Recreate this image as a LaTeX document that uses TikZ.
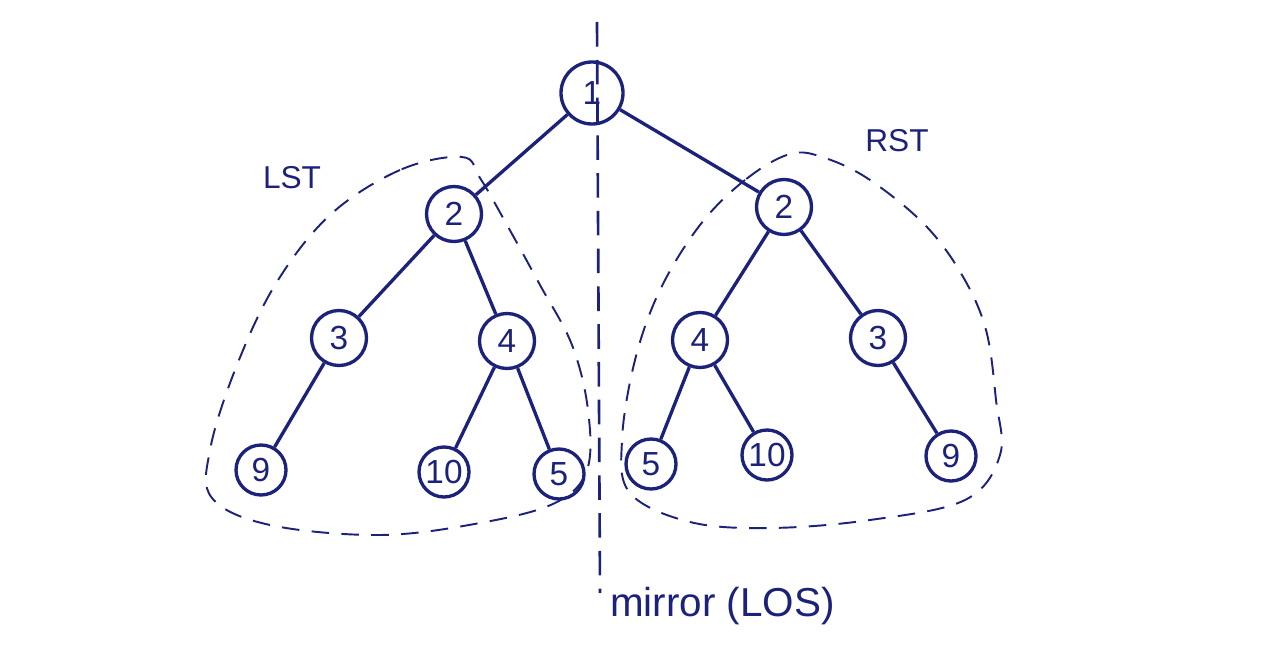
\documentclass[tikz,border=0pt]{standalone}
\usepackage{fontspec}
\setmainfont{Liberation Sans}
\usetikzlibrary{calc}
\definecolor{ink}{RGB}{28,34,122}
\newlength{\unitpx}
\setlength{\unitpx}{0.02cm}
\tikzset{
  tnode/.style={circle,draw=ink,line width=1.9pt,text=ink,inner sep=0pt,font=\fontsize{19}{21}\selectfont},
  big/.style={tnode,minimum size=62\unitpx},
  mid/.style={tnode,minimum size=55\unitpx},
  leaf/.style={tnode,minimum size=50\unitpx},
  edge/.style={draw=ink,line width=1.9pt},
  hull/.style={draw=ink,line width=1.1pt,dash pattern=on 10pt off 7pt},
  lbl/.style={text=ink,font=\fontsize{18}{20}\selectfont}
}
\begin{document}
\begin{tikzpicture}[x=0.02cm,y=-0.02cm]
\useasboundingbox (0,0) rectangle (1280,658);
% mirror line
\coordinate (mtop) at (597,22);
\coordinate (mbot) at (600,593);
\draw[ink,line width=1.5pt,dash pattern=on 14pt off 7.5pt] (mtop) -- (mbot);
% nodes
\node[big] (r) at (592,93) {1};
\node[mid] (l2) at (454,214) {2};
\node[mid] (l3) at (339,338) {3};
\node[mid] (l4) at (507,341) {4};
\node[leaf] (l9) at (261,470) {9};
\node[leaf] (l10) at (444,472) {10};
\node[leaf] (l5) at (559,474) {5};
\node[mid] (r2) at (784,207) {2};
\node[mid] (r4) at (700,340) {4};
\node[mid] (r3) at (878,338) {3};
\node[leaf] (r5) at (651,464) {5};
\node[leaf] (r10) at (767,455) {10};
\node[leaf] (r9) at (951,456) {9};
% edges
\draw[edge] (r) -- (l2);
\draw[edge] (r) -- (r2);
\draw[edge] (l2) -- (l3);
\draw[edge] (l2) -- (l4);
\draw[edge] (l3) -- (l9);
\draw[edge] (l4) -- (l10);
\draw[edge] (l4) -- (l5);
\draw[edge] (r2) -- (r4);
\draw[edge] (r2) -- (r3);
\draw[edge] (r4) -- (r5);
\draw[edge] (r4) -- (r10);
\draw[edge] (r3) -- (r9);
% hulls
\draw[hull] plot[smooth cycle,tension=0.6] coordinates {
  (462,157) (400,170) (330,215) (275,285) (235,370) (210,450) (212,498)
  (270,525) (380,535) (480,523) (555,503) (587,470) (588,410) (572,345)
  (540,285) (507,225) (480,178)};
\draw[hull] plot[smooth cycle,tension=0.6] coordinates {
  (790,154) (745,180) (700,225) (660,290) (635,360) (622,440) (630,493)
  (690,522) (770,528) (870,520) (965,500) (1000,455) (996,400) (986,330)
  (962,275) (925,225) (870,180) (825,158)};
% labels
\node[lbl] (lst) at (292,178) {LST};
\node[lbl] (rst) at (897,141) {RST};
\node[lbl,anchor=west,font=\fontsize{23}{25}\selectfont] (mir) at (604,606) {mirror (LOS)};
\end{tikzpicture}
\end{document}
